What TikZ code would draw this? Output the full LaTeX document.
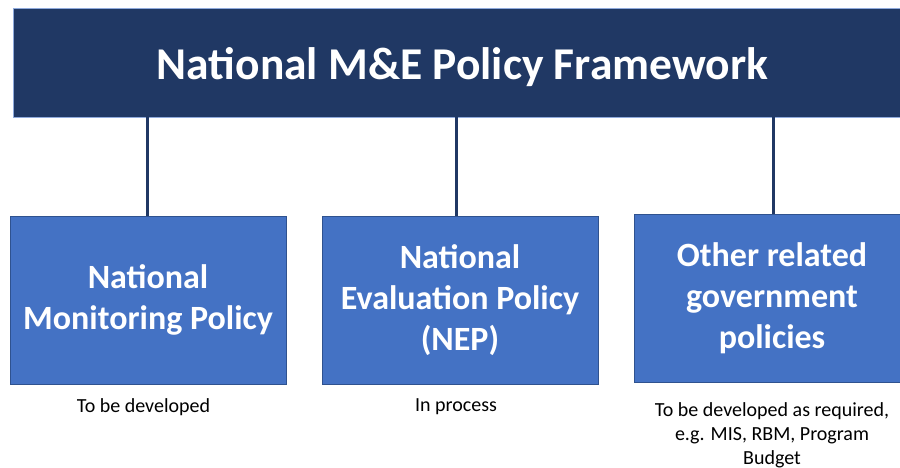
\documentclass[tikz,border=0pt]{standalone}
\usepackage{fontspec}
\setmainfont{Carlito}
\usetikzlibrary{positioning}

\definecolor{navy}{HTML}{203864}
\definecolor{barEdge}{HTML}{8FAADC}
\definecolor{boxBlue}{HTML}{4472C4}
\definecolor{boxEdge}{HTML}{2F528F}

\tikzset{
  policy/.style = {draw=boxEdge, fill=boxBlue, text=white, inner sep=0pt,
                   minimum width=276pt, minimum height=168pt, align=center,
                   font=\fontsize{34}{41}\selectfont\bfseries},
  note/.style   = {align=center, font=\fontsize{20}{24}\selectfont},
  link/.style   = {draw=navy, line width=3pt}
}

\begin{document}
\begin{tikzpicture}[x=1pt,y=-1pt]

\useasboundingbox (0,0) rectangle (900,468) ;

\node[draw=barEdge, fill=navy, text=white, minimum width=899pt, minimum height=109pt,
      text height=40pt, text depth=5pt,
      font=\fontsize{45.5}{54}\selectfont\bfseries] (frame) at (462.5,62.5)
      {National M\&E Policy Framework} ;

\node[policy] (monitor) at (148,300) {National\\Monitoring Policy} ;
\node[policy] (evaluate) at (460,300) {National\\Evaluation Policy\\(NEP)} ;
\node[policy] (other) at (772,298) {Other related\\government\\policies} ;

\draw[link] (frame.south -| 147,0) -- (monitor.north -| 147,0) ;
\draw[link] (frame.south -| 456,0) -- (evaluate.north -| 456,0) ;
\draw[link] (frame.south -| 773,0) -- (other.north -| 773,0) ;

\node[note] (monitorNote) at (143.5,407) {To be developed} ;
\node[note] (evaluateNote) at (456,407) {In process} ;
\node[note] (otherNote) at (772,435) {To be developed as required,\\e.g. MIS, RBM, Program\\Budget} ;

\end{tikzpicture}
\end{document}
